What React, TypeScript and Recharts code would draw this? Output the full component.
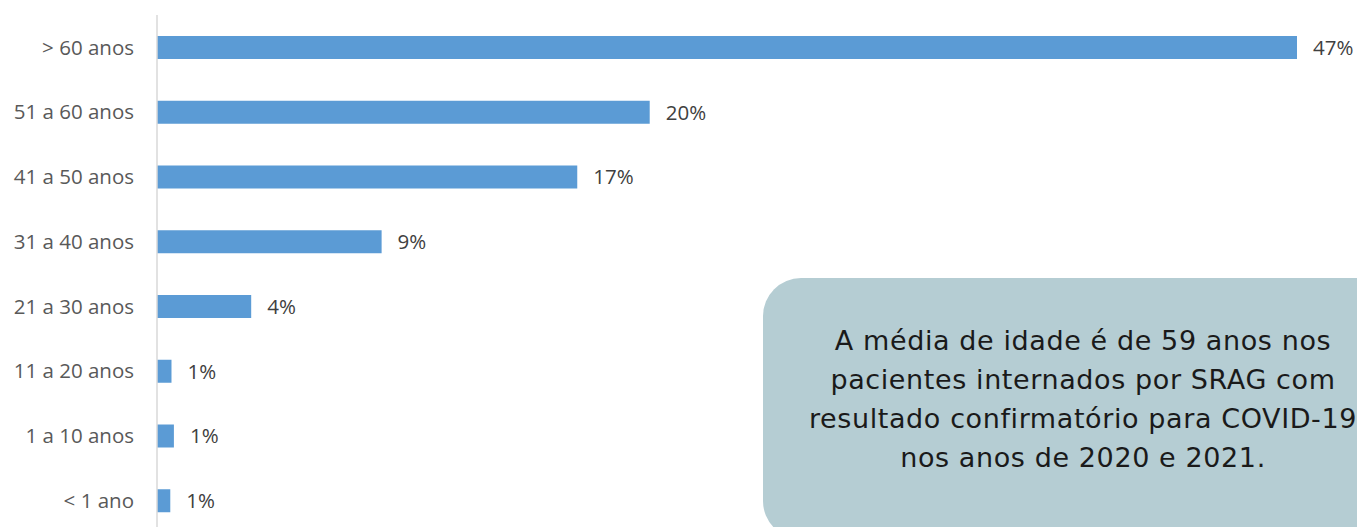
import React from 'react';
import { BarChart, Bar, XAxis, YAxis, LabelList } from 'recharts';

// age groups, top to bottom as in the original chart
const faixas = ['> 60 anos', '51 a 60 anos', '41 a 50 anos', '31 a 40 anos', '21 a 30 anos', '11 a 20 anos', '1 a 10 anos', '< 1 ano'];
// share of hospitalised SRAG patients with confirmed COVID-19 (%)
const percentuais = [47.2, 20.4, 17.4, 9.3, 3.9, 0.6, 0.7, 0.55];

const nota = [
  'A média de idade é de 59 anos nos',
  'pacientes internados por SRAG com',
  'resultado confirmatório para COVID-19',
  'nos anos de 2020 e 2021.',
];

const data = faixas.map((name, i) => ({ name, value: percentuais[i] }));

export default function App() {
  return (
    <div style={{ position: 'absolute', left: 0, top: 0, width: 1357, height: 527, overflow: 'hidden', background: '#fff' }}>
      <BarChart
        width={1357}
        height={533}
        data={data}
        layout="vertical"
        margin={{ top: 15, right: 60, bottom: 0, left: 0 }}
      >
        <XAxis type="number" domain={[0, 47.2]} hide />
        <YAxis
          type="category"
          dataKey="name"
          width={157}
          interval={0}
          tickLine={false}
          tickSize={0}
          tickMargin={23}
          axisLine={{ stroke: '#d9d9d9', strokeWidth: 1.5 }}
          tick={{ fill: '#595959', fontSize: 20.5, fontFamily: 'Open Sans' }}
        />
        <Bar dataKey="value" fill="#5b9bd5" barSize={23} isAnimationActive={false}>
          <LabelList
            dataKey="value"
            position="right"
            offset={16}
            formatter={(v: any) => `${Math.round(Number(v))}%`}
            style={{ fill: '#404040', fontSize: 20.5, fontFamily: 'Open Sans' }}
          />
        </Bar>
      </BarChart>

      <div
        style={{
          position: 'absolute',
          left: 763,
          top: 278,
          width: 640,
          height: 261,
          borderRadius: 38,
          background: '#b5cdd3',
          boxSizing: 'border-box',
          paddingTop: 43,
          textAlign: 'center',
          fontFamily: 'DejaVu Sans',
          fontSize: 27,
          letterSpacing: 0.6,
          lineHeight: '39px',
          color: '#1a1a1a',
          whiteSpace: 'nowrap',
        }}
      >
        {nota.map((l) => (
          <div key={l}>{l}</div>
        ))}
      </div>
    </div>
  );
}
